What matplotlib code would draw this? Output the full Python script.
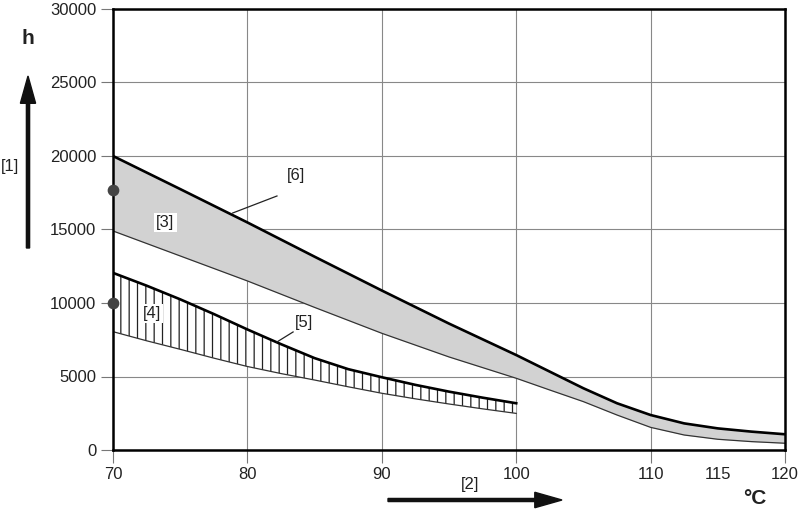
import numpy as np
import matplotlib
matplotlib.use("Agg")
import matplotlib.pyplot as plt

plt.rcParams['font.family'] = ['Liberation Sans', 'DejaVu Sans']
plt.rcParams['hatch.linewidth'] = 0.9
plt.rcParams['hatch.color'] = '#222222'

# band [3]: upper (line [6]) and lower edge
x_upper = [70, 75, 80, 85, 90, 95, 100, 102.5, 105, 107.5, 110, 112.5, 115, 117.5, 120]
h_upper_top = [20000, 17750, 15480, 13150, 10850, 8600, 6460, 5330, 4200, 3180, 2380, 1810, 1470, 1250, 1070]
h_upper_bot = [14900, 13200, 11500, 9700, 7940, 6330, 4880, 4080, 3290, 2380, 1540, 1020, 730, 570, 460]

# band [4]: upper (line [5]) and lower edge
x_lower = [70, 72.5, 75, 77.5, 80, 82.5, 85, 87.5, 90, 92.5, 95, 97.5, 100]
h_lower_top = [12050, 11180, 10250, 9250, 8200, 7200, 6250, 5500, 4950, 4430, 3970, 3560, 3180]
h_lower_bot = [8050, 7430, 6850, 6250, 5680, 5200, 4760, 4300, 3860, 3480, 3130, 2800, 2490]

dot_x = [70, 70]
dot_y = [17700, 10000]

xticks = [70, 80, 90, 100, 110, 120]
yticks = [0, 5000, 10000, 15000, 20000, 25000, 30000]

fig = plt.figure(figsize=(8, 5.15), dpi=100)
ax = fig.add_axes([113 / 800, 1 - 450 / 515, 672 / 800, 441 / 515])

ax.fill_between(x_upper, h_upper_bot, h_upper_top, color='#d2d2d2', lw=0, zorder=2)
ax.plot(x_upper, h_upper_bot, color='#333333', lw=0.9, zorder=3)
ax.plot(x_upper, h_upper_top, color='black', lw=1.9, zorder=4)

ax.fill_between(x_lower, h_lower_bot, h_lower_top, facecolor='white', edgecolor='#222222',
                hatch='||', lw=0, zorder=2)
ax.plot(x_lower, h_lower_bot, color='#333333', lw=0.9, zorder=3)
ax.plot(x_lower, h_lower_top, color='black', lw=1.9, zorder=4)

ax.scatter(dot_x, dot_y, s=55, color='#444444', zorder=6, clip_on=False)

ax.set_xlim(70, 120)
ax.set_ylim(0, 30000)
ax.set_xticks(xticks)
ax.set_xticks([115], minor=True)
ax.set_xticklabels([str(v) for v in xticks])
ax.set_xticklabels(['115'], minor=True)
ax.set_yticks(yticks)
ax.set_yticklabels([str(v) for v in yticks])
ax.tick_params(axis='both', which='major', length=9, width=0.8, color='#777777',
               labelsize=12, labelcolor='#222222', pad=3)
ax.tick_params(axis='x', which='minor', length=0, labelsize=12, labelcolor='#222222', pad=12)
ax.grid(True, which='major', color='#888888', lw=0.8, zorder=1)
for s in ax.spines.values():
    s.set_linewidth(1.8)
    s.set_color('black')
    s.set_zorder(5)

# labels
ax.text(73.9, 15500, '[3]', fontsize=12, ha='center', va='center', color='#222222',
        bbox=dict(facecolor='white', edgecolor='none', pad=1.5), zorder=7)
ax.text(72.9, 9300, '[4]', fontsize=12, ha='center', va='center', color='#222222',
        bbox=dict(facecolor='white', edgecolor='none', pad=1.5), zorder=7)
ax.text(84.2, 8660, '[5]', fontsize=12, ha='center', va='center', color='#222222', zorder=7)
ax.plot([82.2, 83.4], [7350, 8030], color='#222222', lw=0.9, zorder=7)
ax.text(83.6, 18670, '[6]', fontsize=12, ha='center', va='center', color='#222222', zorder=7)
ax.plot([78.9, 82.2], [16120, 17280], color='#222222', lw=0.9, zorder=7)

fig.text(28 / 800, 1 - 39 / 515, 'h', fontsize=15, fontweight='bold', ha='center', va='center', color='#222222')
fig.text(10 / 800, 1 - 166 / 515, '[1]', fontsize=12, ha='center', va='center', color='#222222')
fig.text(470 / 800, 1 - 484 / 515, '[2]', fontsize=12, ha='center', va='center', color='#222222')
fig.text(755 / 800, 1 - 499 / 515, '°C', fontsize=15, fontweight='bold', ha='center', va='center', color='#222222')

fig.patches.append(matplotlib.patches.FancyArrow(
    28 / 800, 1 - 248 / 515, 0, 172 / 515, width=0.004, head_width=0.019, head_length=0.053,
    length_includes_head=True, color='#111111', transform=fig.transFigure))
fig.patches.append(matplotlib.patches.FancyArrow(
    388 / 800, 1 - 500 / 515, 174 / 800, 0, width=0.006, head_width=0.03, head_length=0.034,
    length_includes_head=True, color='#111111', transform=fig.transFigure))

fig.savefig('out.png', dpi=100)
